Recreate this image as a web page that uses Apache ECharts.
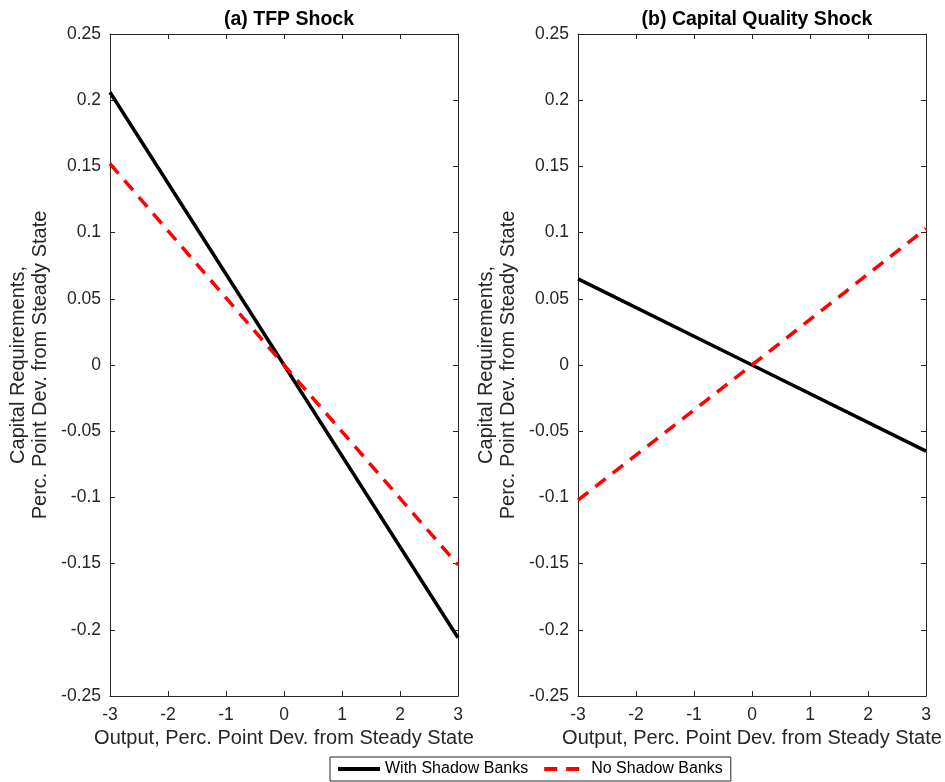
<!DOCTYPE html>
<html><head><meta charset="utf-8">
<script src="https://cdn.jsdelivr.net/npm/echarts@6/dist/echarts.min.js"></script>
<style>html,body{margin:0;padding:0;background:#fff}#c{width:945px;height:782px}</style>
</head><body><div id="c"></div>
<script>
const xValues = [-3, 0, 3];
const tfpWith = [0.206, 0, -0.206];
const tfpNo = [0.152, 0, -0.151];
const cqWith = [0.065, 0, -0.065];
const cqNo = [-0.102, 0, 0.103];
const panelTitles = ['(a) TFP Shock', '(b) Capital Quality Shock'];
const seriesNames = ['With Shadow Banks', 'No Shadow Banks'];
const xName = 'Output, Perc. Point Dev. from Steady State';
const yName = 'Capital Requirements,\nPerc. Point Dev. from Steady State';

const FONT = 'Liberation Sans, Arial, Helvetica, sans-serif';
const TXT = '#262626';
const pair = (ys) => xValues.map((x, i) => [x, ys[i]]);

const grids = [
  {left: 110, top: 34, width: 348, height: 662},
  {left: 578, top: 34, width: 348, height: 662}
];
const xAxes = [], yAxes = [];
[0, 1].forEach(g => {
  const base = {gridIndex: g, type: 'value', min: -3, max: 3, interval: 1,
    axisLine: {show: true, onZero: false, lineStyle: {color: TXT, width: 1}},
    axisTick: {show: true, inside: true, length: 5, lineStyle: {color: TXT}},
    splitLine: {show: false}};
  xAxes.push(Object.assign({}, base, {position: 'bottom',
    axisLabel: {color: TXT, fontFamily: FONT, fontSize: 17.5, margin: 10},
    name: xName, nameLocation: 'middle', nameGap: 32,
    nameTextStyle: {color: TXT, fontFamily: FONT, fontSize: 20}}));
  xAxes.push(Object.assign({}, base, {position: 'top', axisLabel: {show: false}}));
  const ybase = {gridIndex: g, type: 'value', min: -0.25, max: 0.25, interval: 0.05,
    axisLine: {show: true, onZero: false, lineStyle: {color: TXT, width: 1}},
    axisTick: {show: true, inside: true, length: 5, lineStyle: {color: TXT}},
    splitLine: {show: false}};
  yAxes.push(Object.assign({}, ybase, {position: 'left',
    axisLabel: {color: TXT, fontFamily: FONT, fontSize: 17.5, margin: 9,
      formatter: v => String(Math.round(v * 100) / 100)},
    name: yName, nameLocation: 'middle', nameGap: 59, nameRotate: 90,
    nameTextStyle: {color: TXT, fontFamily: FONT, fontSize: 20, lineHeight: 22}}));
  yAxes.push(Object.assign({}, ybase, {position: 'right', axisLabel: {show: false}}));
});

const mk = (name, data, g, dashed) => ({
  name, type: 'line', xAxisIndex: g * 2, yAxisIndex: g * 2, data,
  showSymbol: false, symbol: 'none', animation: false, clip: false,
  lineStyle: dashed ? {color: '#ff0000', width: 3.5, type: [13, 9]} : {color: '#000000', width: 3.5},
  itemStyle: {color: dashed ? '#ff0000' : '#000000'}
});

const chart = echarts.init(document.getElementById('c'), null, {renderer: 'canvas'});
chart.setOption({
  animation: false,
  backgroundColor: '#fff',
  title: [
    {text: panelTitles[0], left: 284, top: 5, textAlign: 'center',
      textStyle: {color: '#000', fontFamily: FONT, fontSize: 19.5, fontWeight: 'bold'}},
    {text: panelTitles[1], left: 752, top: 5, textAlign: 'center',
      textStyle: {color: '#000', fontFamily: FONT, fontSize: 19.5, fontWeight: 'bold'}}
  ],
  legend: {
    data: seriesNames, left: 330, top: 757, orient: 'horizontal',
    borderColor: '#262626', borderWidth: 1, borderRadius: 0,
    padding: [4, 8, 4, 6], itemGap: 14, itemWidth: 42, itemHeight: 14,
    itemStyle: {opacity: 0},
    lineStyle: {width: 4},
    textStyle: {color: '#000', fontFamily: FONT, fontSize: 16}
  },
  grid: grids,
  xAxis: xAxes,
  yAxis: yAxes,
  series: [
    mk(seriesNames[0], pair(tfpWith), 0, false),
    mk(seriesNames[1], pair(tfpNo), 0, true),
    mk(seriesNames[0], pair(cqWith), 1, false),
    mk(seriesNames[1], pair(cqNo), 1, true)
  ]
});
</script></body></html>
